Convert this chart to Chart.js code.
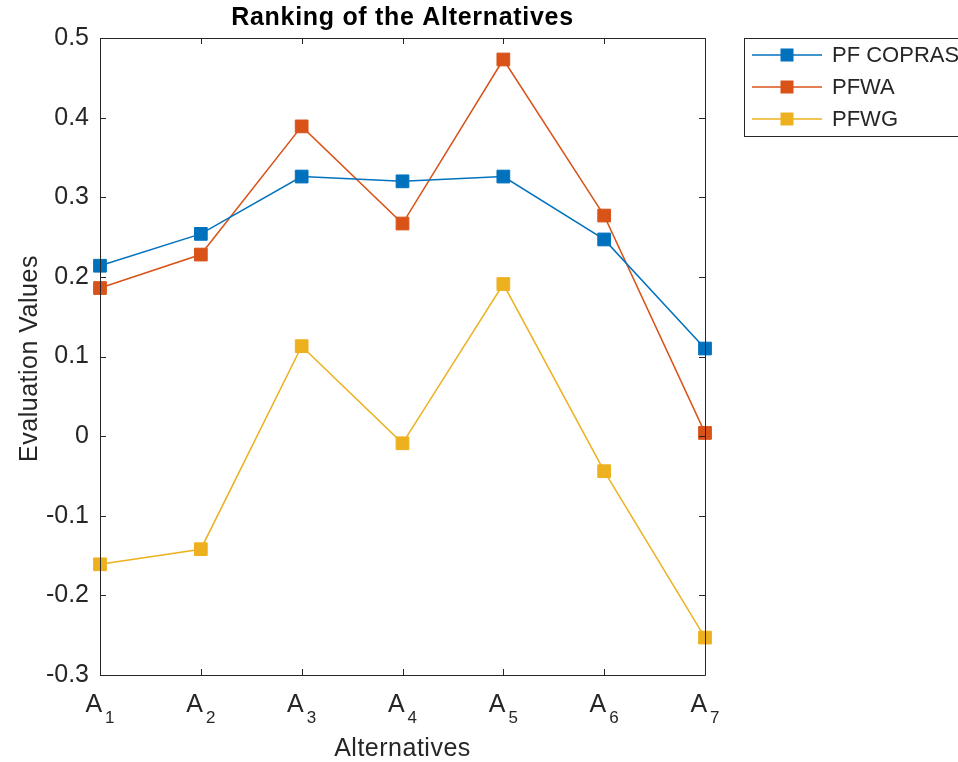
<!DOCTYPE html>
<html>
<head>
<meta charset="utf-8">
<script src="https://cdn.jsdelivr.net/npm/chart.js@4/dist/chart.umd.min.js"></script>
<style>
html,body{margin:0;padding:0;background:#fff;}
#c{display:block;}
</style>
</head>
<body>
<canvas id="c" width="958" height="762"></canvas>
<script>
const categories = ['A1','A2','A3','A4','A5','A6','A7'];
const catBase = ['A','A','A','A','A','A','A'];
const catSub = ['1','2','3','4','5','6','7'];
const seriesNames = ['PF COPRAS','PFWA','PFWG'];
const pfCopras = [0.214, 0.254, 0.326, 0.320, 0.326, 0.247, 0.110];
const pfwa = [0.186, 0.228, 0.389, 0.267, 0.473, 0.277, 0.004];
const pfwg = [-0.161, -0.142, 0.113, -0.009, 0.191, -0.044, -0.253];
const yTicks = [0.5, 0.4, 0.3, 0.2, 0.1, 0, -0.1, -0.2, -0.3];
const chartTitle = 'Ranking of the Alternatives';
const xTitle = 'Alternatives';
const yTitle = 'Evaluation Values';
const colors = ['#0072BD', '#D95319', '#EDB120'];

const FONT = '"Liberation Sans", Arial, Helvetica, sans-serif';
const AX = '#262626';

function ds(label, data, color) {
  return {
    label, data,
    borderColor: color, backgroundColor: color,
    borderWidth: 1.5,
    pointStyle: 'rect', pointRadius: 9, pointHoverRadius: 9,
    pointBorderWidth: 1, pointBorderColor: color, pointBackgroundColor: color,
    tension: 0, clip: false
  };
}

const deco = {
  id: 'deco',
  afterDraw(chart) {
    const ctx = chart.ctx;
    const a = chart.chartArea;
    const xs = chart.scales.x, ys = chart.scales.y;
    ctx.save();
    // box
    ctx.strokeStyle = AX; ctx.lineWidth = 1;
    ctx.beginPath();
    ctx.rect(Math.round(a.left)+0.5, Math.round(a.top)+0.5, Math.round(a.right-a.left), Math.round(a.bottom-a.top));
    ctx.stroke();
    // ticks inward
    const tl = 6;
    ctx.beginPath();
    yTicks.forEach(v => {
      const y = Math.round(ys.getPixelForValue(v)) + 0.5;
      ctx.moveTo(a.left, y); ctx.lineTo(a.left + tl, y);
      ctx.moveTo(a.right, y); ctx.lineTo(a.right - tl, y);
    });
    categories.forEach((c, i) => {
      const x = Math.round(xs.getPixelForValue(i)) + 0.5;
      ctx.moveTo(x, a.bottom); ctx.lineTo(x, a.bottom - tl);
      ctx.moveTo(x, a.top); ctx.lineTo(x, a.top + tl);
    });
    ctx.stroke();
    // x tick labels with subscripts
    ctx.fillStyle = AX;
    ctx.textBaseline = 'alphabetic';
    categories.forEach((c, i) => {
      const x = xs.getPixelForValue(i);
      ctx.font = '25px ' + FONT;
      const wA = ctx.measureText(catBase[i]).width;
      ctx.font = '17px ' + FONT;
      const wS = ctx.measureText(catSub[i]).width;
      const gap = 3;
      const total = wA + gap + wS;
      const x0 = x - total / 2;
      ctx.textAlign = 'left';
      ctx.font = '25px ' + FONT;
      ctx.fillText(catBase[i], x0, 712);
      ctx.font = '17px ' + FONT;
      ctx.fillText(catSub[i], x0 + wA + gap, 723);
    });
    // x title
    ctx.textAlign = 'center';
    ctx.font = '25px ' + FONT;
    ctx.letterSpacing = '0.5px';
    ctx.fillText(xTitle, (a.left + a.right) / 2, 756);
    // y title
    ctx.save();
    ctx.translate(30, (a.top + a.bottom) / 2 + 2);
    ctx.rotate(-Math.PI / 2);
    ctx.textAlign = 'center'; ctx.textBaseline = 'middle';
    ctx.fillText(yTitle, 0, 0);
    ctx.restore();
    // title
    ctx.fillStyle = '#000';
    ctx.font = 'bold 25px ' + FONT;
    ctx.letterSpacing = '0.7px';
    ctx.textAlign = 'center'; ctx.textBaseline = 'middle';
    ctx.fillText(chartTitle, (a.left + a.right) / 2, 18);
    ctx.letterSpacing = '0px';
    // legend
    const lx = 744.5, ly = 38.5, lw = 260, lh = 98;
    ctx.fillStyle = '#fff';
    ctx.fillRect(lx, ly, lw, lh);
    ctx.strokeStyle = AX; ctx.lineWidth = 1;
    ctx.strokeRect(lx, ly, lw, lh);
    const rows = [55, 87, 119];
    ctx.font = '22px ' + FONT;
    ctx.textAlign = 'left'; ctx.textBaseline = 'middle';
    seriesNames.forEach((n, i) => {
      const y = rows[i];
      ctx.strokeStyle = colors[i]; ctx.lineWidth = 1.5;
      ctx.beginPath(); ctx.moveTo(752, y); ctx.lineTo(822, y); ctx.stroke();
      ctx.fillStyle = colors[i];
      ctx.fillRect(787 - 6.5, y - 6.5, 13, 13);
      ctx.fillStyle = AX;
      ctx.fillText(n, 832, y + 1);
    });
    ctx.restore();
  }
};

new Chart(document.getElementById('c'), {
  type: 'line',
  data: {
    labels: categories,
    datasets: [ds(seriesNames[0], pfCopras, colors[0]), ds(seriesNames[1], pfwa, colors[1]), ds(seriesNames[2], pfwg, colors[2])]
  },
  options: {
    responsive: false,
    animation: false,
    devicePixelRatio: 1,
    layout: { padding: { left: 0, top: 38, right: 253, bottom: 0 } },
    plugins: { legend: { display: false }, title: { display: false }, tooltip: { enabled: false } },
    scales: {
      x: {
        type: 'category',
        offset: false,
        grid: { display: false, drawTicks: false },
        border: { display: false },
        ticks: { display: false },
        afterFit(s) { s.height = 87; }
      },
      y: {
        min: -0.3, max: 0.5,
        grid: { display: false, drawTicks: false },
        border: { display: false },
        afterFit(s) { s.width = 100; },
        afterBuildTicks(s) { s.ticks = yTicks.slice().reverse().map(v => ({ value: v })); },
        ticks: {
          padding: 11,
          color: AX,
          font: { family: FONT, size: 25 },
          callback(v) { return String(Math.round(v * 10) / 10); }
        }
      }
    }
  },
  plugins: [deco]
});
</script>
</body>
</html>
